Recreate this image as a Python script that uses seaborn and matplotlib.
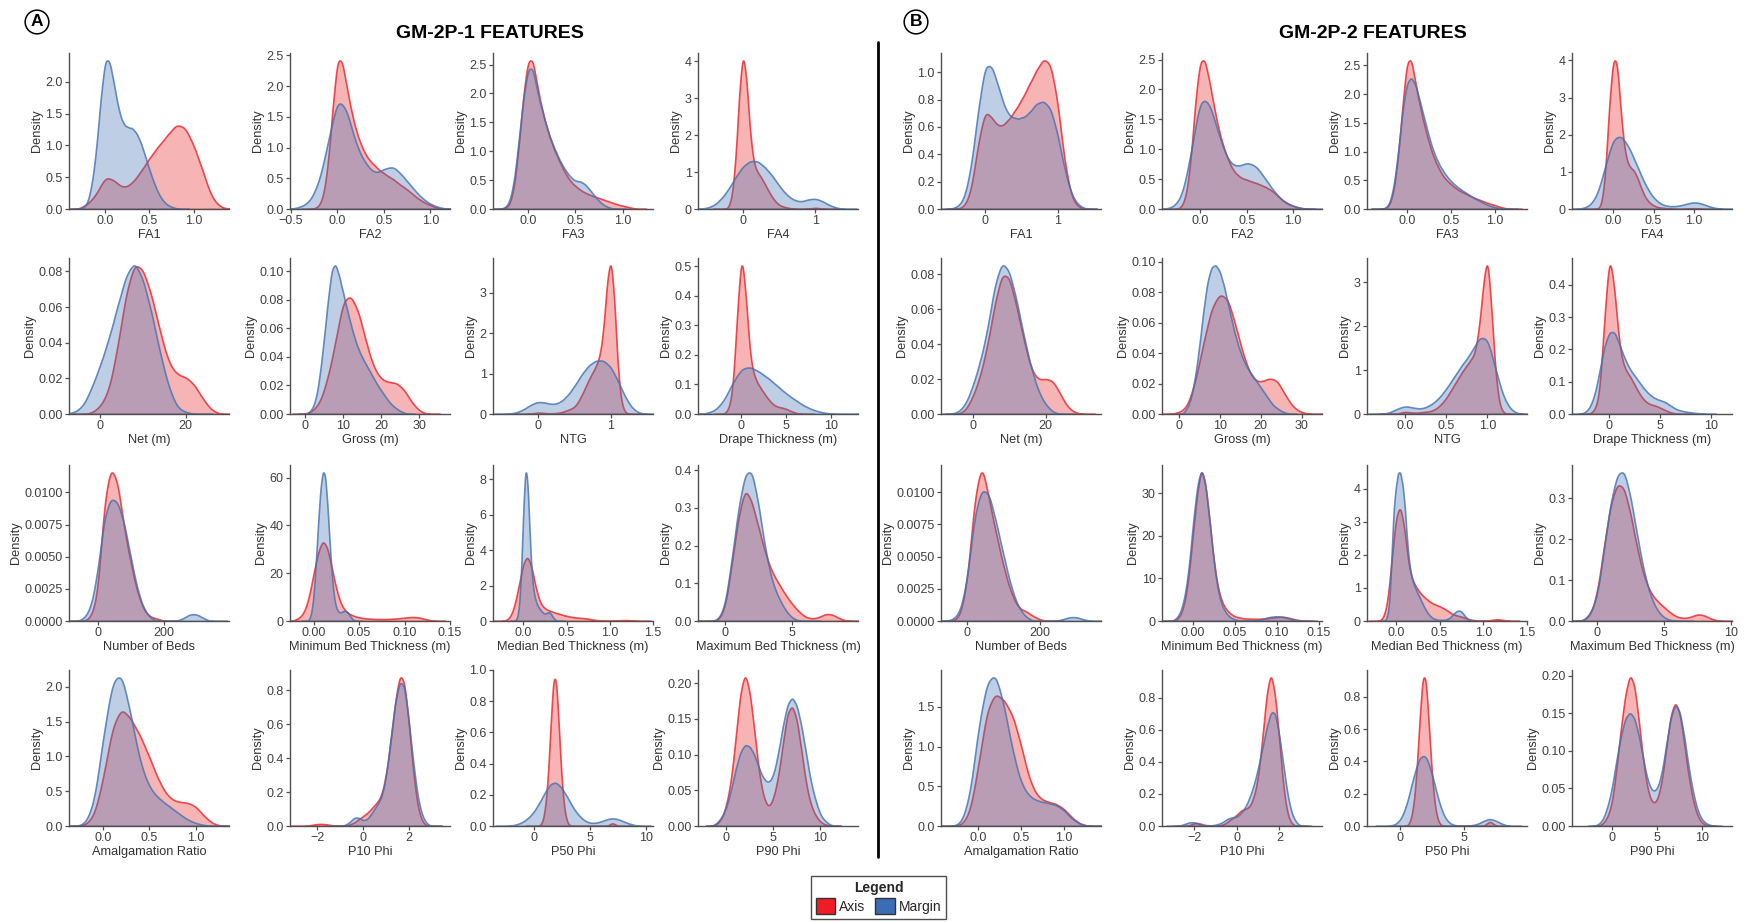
import numpy as np
import matplotlib
matplotlib.use("Agg")
import matplotlib.pyplot as plt
from matplotlib.patches import Patch
from matplotlib.lines import Line2D
import seaborn as sns

# ---------------- DATA: (value, weight) samples ----------------
# GM-2P-1 (panel A)
A_FA1_AXIS = [(-0.2,0.08),(-0.1,0.24),(0.0,0.56),(0.1,0.48),(0.2,0.34),(0.3,0.42),(0.4,0.62),(0.5,0.85),(0.6,1.05),(0.7,1.22),(0.8,1.42),(0.9,1.38),(1.0,1.07),(1.1,0.65),(1.2,0.19),(1.3,0.03)]
A_FA1_MARGIN = [(-0.25,0.02),(-0.2,0.08),(-0.15,0.35),(-0.1,0.85),(-0.05,1.6),(0.0,2.15),(0.05,2.1),(0.1,1.75),(0.15,1.4),(0.2,1.2),(0.25,1.15),(0.3,1.15),(0.35,1.08),(0.4,0.95),(0.45,0.75),(0.5,0.55),(0.55,0.37),(0.6,0.22),(0.65,0.12),(0.7,0.06),(0.75,0.03),(0.8,0.01)]
A_FA2_AXIS = [(-0.25,0.01),(-0.2,0.04),(-0.15,0.2),(-0.1,0.7),(-0.05,1.6),(0.0,2.35),(0.05,2.3),(0.1,1.87),(0.15,1.5),(0.2,1.2),(0.25,1.0),(0.3,0.84),(0.35,0.74),(0.4,0.67),(0.45,0.6),(0.5,0.55),(0.55,0.5),(0.6,0.46),(0.65,0.4),(0.7,0.35),(0.75,0.3),(0.8,0.24),(0.85,0.18),(0.9,0.13),(0.95,0.09),(1.0,0.06),(1.05,0.03),(1.1,0.01)]
A_FA2_MARGIN = [(-0.4,0.03),(-0.3,0.1),(-0.2,0.38),(-0.1,1.0),(0.0,1.7),(0.1,1.5),(0.2,0.95),(0.3,0.68),(0.4,0.52),(0.5,0.6),(0.6,0.65),(0.7,0.5),(0.8,0.33),(0.9,0.17),(1.0,0.07),(1.1,0.02)]
A_FA3_AXIS = [(-0.25,0.01),(-0.2,0.05),(-0.15,0.35),(-0.1,1.1),(-0.05,2.1),(0.0,2.75),(0.05,2.75),(0.1,2.2),(0.15,1.8),(0.2,1.46),(0.25,1.2),(0.3,0.99),(0.35,0.8),(0.4,0.63),(0.45,0.5),(0.5,0.42),(0.55,0.35),(0.6,0.3),(0.65,0.26),(0.7,0.23),(0.75,0.2),(0.8,0.17),(0.85,0.14),(0.9,0.11),(0.95,0.08),(1.0,0.06),(1.05,0.04),(1.1,0.02)]
A_FA3_MARGIN = [(-0.25,0.02),(-0.2,0.1),(-0.15,0.45),(-0.1,1.2),(-0.05,2.0),(0.0,2.55),(0.05,2.55),(0.1,2.08),(0.15,1.75),(0.2,1.45),(0.25,1.2),(0.3,1.0),(0.35,0.82),(0.4,0.68),(0.45,0.57),(0.5,0.5),(0.55,0.5),(0.6,0.45),(0.65,0.35),(0.7,0.24),(0.75,0.14),(0.8,0.07),(0.85,0.03),(0.9,0.01)]
A_FA4_AXIS = [(-0.2,0.03),(-0.15,0.3),(-0.1,1.2),(-0.05,2.9),(0.0,3.9),(0.05,3.2),(0.1,1.8),(0.15,1.1),(0.2,0.9),(0.25,0.78),(0.3,0.62),(0.35,0.45),(0.4,0.3),(0.45,0.18),(0.5,0.1),(0.55,0.06),(0.6,0.04),(0.65,0.02),(0.7,0.01),(0.9,0.01),(0.95,0.02),(1.0,0.03),(1.05,0.02),(1.1,0.01)]
A_FA4_MARGIN = [(-0.5,0.03),(-0.4,0.1),(-0.3,0.28),(-0.2,0.55),(-0.1,0.9),(0.0,1.2),(0.1,1.35),(0.2,1.35),(0.3,1.18),(0.4,0.95),(0.5,0.65),(0.6,0.4),(0.7,0.25),(0.8,0.2),(0.9,0.27),(1.0,0.3),(1.1,0.22),(1.2,0.1),(1.3,0.03)]
A_NET_AXIS = [(-2,0.0005),(0,0.004),(2,0.012),(4,0.035),(6,0.065),(8,0.082),(10,0.078),(12,0.064),(14,0.044),(16,0.027),(18,0.021),(20,0.02),(22,0.016),(24,0.008),(26,0.002)]
A_NET_MARGIN = [(-6,0.001),(-4,0.004),(-2,0.014),(0,0.026),(2,0.04),(4,0.057),(6,0.074),(8,0.082),(10,0.072),(12,0.054),(14,0.032),(16,0.014),(18,0.003),(20,0.001)]
A_GROSS_AXIS = [(2,0.002),(4,0.008),(6,0.025),(8,0.05),(10,0.08),(12,0.083),(14,0.072),(16,0.05),(18,0.032),(20,0.024),(22,0.022),(24,0.022),(26,0.017),(28,0.008),(30,0.002)]
A_GROSS_MARGIN = [(1,0.001),(2,0.004),(3,0.012),(4,0.03),(5,0.055),(6,0.082),(7,0.106),(8,0.11),(9,0.1),(10,0.088),(11,0.076),(12,0.065),(13,0.055),(14,0.047),(15,0.041),(16,0.036),(17,0.031),(18,0.026),(19,0.021),(20,0.017),(21,0.013),(22,0.009),(23,0.006),(24,0.004),(25,0.002),(26,0.001)]
A_NTG_AXIS = [(-0.1,0.01),(-0.05,0.02),(0.0,0.03),(0.05,0.03),(0.1,0.02),(0.15,0.015),(0.2,0.015),(0.25,0.02),(0.3,0.03),(0.35,0.05),(0.4,0.08),(0.45,0.11),(0.5,0.15),(0.55,0.25),(0.6,0.4),(0.65,0.57),(0.7,0.75),(0.75,0.9),(0.8,1.05),(0.85,1.25),(0.9,1.8),(0.95,2.9),(1.0,3.5),(1.05,2.6),(1.1,0.9),(1.15,0.2),(1.2,0.03),(1.25,0.005)]
A_NTG_MARGIN = [(-0.4,0.005),(-0.3,0.03),(-0.2,0.1),(-0.1,0.22),(0.0,0.3),(0.1,0.28),(0.2,0.23),(0.3,0.27),(0.4,0.42),(0.5,0.66),(0.6,0.95),(0.7,1.18),(0.8,1.3),(0.9,1.3),(1.0,1.15),(1.1,0.8),(1.2,0.4),(1.3,0.12),(1.4,0.02)]
A_DRAPE_AXIS = [(-1.5,0.01),(-1.0,0.06),(-0.5,0.3),(0.0,0.52),(0.5,0.36),(1.0,0.16),(1.5,0.11),(2.0,0.085),(2.5,0.065),(3.0,0.045),(3.5,0.03),(4.0,0.022),(4.5,0.02),(5.0,0.016),(5.5,0.009),(6.0,0.004),(6.5,0.001)]
A_DRAPE_MARGIN = [(-4,0.002),(-3,0.01),(-2,0.04),(-1,0.1),(0,0.148),(1,0.152),(2,0.135),(3,0.115),(4,0.09),(5,0.065),(6,0.045),(7,0.026),(8,0.013),(9,0.005),(10,0.001)]
A_BEDS_AXIS = [(-20,0.0003),(0,0.002),(20,0.0095),(40,0.0122),(60,0.011),(80,0.0072),(100,0.0045),(120,0.0022),(140,0.0008),(160,0.0003),(180,0.0002)]
A_BEDS_MARGIN = [(-40,0.0002),(-20,0.001),(0,0.0035),(20,0.0075),(40,0.0088),(60,0.0085),(80,0.007),(100,0.0045),(120,0.0022),(140,0.0008),(160,0.0002),(260,0.0002),(280,0.0005),(300,0.0005),(320,0.0002)]
A_MINBED_AXIS = [(-0.02,0.5),(-0.015,1.5),(-0.01,4),(-0.005,10),(0.0,20),(0.005,29),(0.01,34),(0.015,31),(0.02,22),(0.025,13),(0.03,7),(0.035,4),(0.04,2.8),(0.045,2.0),(0.05,1.5),(0.055,1.2),(0.06,1.0),(0.065,0.9),(0.07,0.8),(0.075,0.8),(0.08,0.8),(0.085,0.9),(0.09,1.0),(0.095,1.2),(0.1,1.4),(0.105,1.6),(0.11,1.7),(0.115,1.5),(0.12,1.1),(0.125,0.6),(0.13,0.2)]
A_MINBED_MARGIN = [(-0.005,0.5),(-0.0025,3),(0.0,10),(0.0025,24),(0.005,40),(0.0075,54),(0.01,61),(0.0125,60),(0.015,48),(0.0175,32),(0.02,18),(0.0225,9),(0.025,5),(0.0275,3.5),(0.03,3.5),(0.0325,4),(0.035,4.2),(0.0375,3.5),(0.04,2),(0.0425,0.8),(0.045,0.2)]
A_MEDIAN_AXIS = [(-0.2,0.03),(-0.15,0.2),(-0.1,0.8),(-0.05,1.9),(0.0,3.1),(0.05,3.5),(0.1,2.8),(0.15,1.6),(0.2,0.9),(0.25,0.65),(0.3,0.55),(0.35,0.47),(0.4,0.4),(0.45,0.33),(0.5,0.27),(0.55,0.22),(0.6,0.19),(0.65,0.17),(0.7,0.15),(0.75,0.12),(0.8,0.08),(0.85,0.04),(0.9,0.02),(0.95,0.01),(1.0,0.01),(1.05,0.02),(1.1,0.035),(1.15,0.05),(1.2,0.05),(1.25,0.03),(1.3,0.01)]
A_MEDIAN_MARGIN = [(-0.075,0.1),(-0.05,0.6),(-0.025,2.5),(0.0,6.0),(0.025,8.5),(0.05,7.6),(0.075,4.5),(0.1,2.3),(0.125,1.4),(0.15,1.0),(0.175,0.75),(0.2,0.6),(0.225,0.45),(0.25,0.38),(0.275,0.45),(0.3,0.5),(0.325,0.35),(0.35,0.15),(0.375,0.05),(0.4,0.01)]
A_MAXBED_AXIS = [(-0.5,0.002),(0.0,0.03),(0.5,0.15),(1.0,0.28),(1.5,0.36),(2.0,0.32),(2.5,0.25),(3.0,0.18),(3.5,0.13),(4.0,0.1),(4.5,0.07),(5.0,0.045),(5.5,0.025),(6.0,0.01),(6.5,0.006),(7.0,0.01),(7.5,0.02),(8.0,0.018),(8.5,0.007),(9.0,0.001)]
A_MAXBED_MARGIN = [(-0.5,0.003),(0.0,0.04),(0.5,0.17),(1.0,0.32),(1.5,0.42),(2.0,0.43),(2.5,0.33),(3.0,0.2),(3.5,0.11),(4.0,0.065),(4.5,0.03),(5.0,0.008),(5.5,0.001)]
A_AMALG_AXIS = [(-0.2,0.01),(-0.1,0.12),(0.0,0.65),(0.1,1.4),(0.2,1.65),(0.3,1.48),(0.4,1.25),(0.5,0.95),(0.6,0.62),(0.7,0.4),(0.8,0.33),(0.9,0.33),(1.0,0.28),(1.1,0.12),(1.2,0.02)]
A_AMALG_MARGIN = [(-0.2,0.02),(-0.1,0.3),(0.0,1.3),(0.1,2.15),(0.2,2.25),(0.3,1.6),(0.4,0.9),(0.5,0.55),(0.6,0.4),(0.7,0.3),(0.8,0.2),(0.9,0.1),(1.0,0.04),(1.1,0.01)]
A_P10_AXIS = [(-2.4,0.002),(-2.2,0.008),(-2.0,0.012),(-1.8,0.013),(-1.6,0.01),(-1.4,0.005),(-1.2,0.002),(-1.0,0.001),(-0.8,0.002),(-0.6,0.008),(-0.4,0.02),(-0.2,0.04),(0.0,0.06),(0.2,0.08),(0.4,0.11),(0.6,0.14),(0.8,0.18),(1.0,0.3),(1.2,0.5),(1.4,0.75),(1.6,0.92),(1.8,0.88),(2.0,0.62),(2.2,0.3),(2.4,0.1),(2.6,0.02)]
A_P10_MARGIN = [(-0.8,0.005),(-0.6,0.02),(-0.4,0.05),(-0.2,0.05),(0.0,0.03),(0.2,0.04),(0.4,0.08),(0.6,0.12),(0.8,0.16),(1.0,0.28),(1.2,0.5),(1.4,0.72),(1.6,0.84),(1.8,0.82),(2.0,0.6),(2.2,0.35),(2.4,0.15),(2.6,0.05),(2.8,0.01)]
A_P50_AXIS = [(0.75,0.018),(1.0,0.09),(1.25,0.28),(1.5,0.62),(1.75,0.96),(2.0,0.96),(2.25,0.62),(2.5,0.28),(2.75,0.09),(3.0,0.018),(3.25,0.003),(6.75,0.01),(7.0,0.02),(7.25,0.01)]
A_P50_MARGIN = [(-2.0,0.003),(-1.5,0.01),(-1.0,0.025),(-0.5,0.05),(0.0,0.09),(0.5,0.15),(1.0,0.22),(1.5,0.28),(2.0,0.29),(2.5,0.25),(3.0,0.19),(3.5,0.12),(4.0,0.07),(4.5,0.035),(5.0,0.02),(5.5,0.02),(6.0,0.03),(6.5,0.045),(7.0,0.052),(7.5,0.045),(8.0,0.03),(8.5,0.015),(9.0,0.005)]
A_P90_AXIS = [(-1.0,0.003),(-0.5,0.01),(0.0,0.03),(0.5,0.065),(1.0,0.13),(1.5,0.2),(2.0,0.23),(2.5,0.2),(3.0,0.14),(3.5,0.075),(4.0,0.04),(4.5,0.026),(5.0,0.04),(5.5,0.07),(6.0,0.12),(6.5,0.17),(7.0,0.18),(7.5,0.16),(8.0,0.11),(8.5,0.06),(9.0,0.03),(9.5,0.015),(10.0,0.006),(10.5,0.002),(11.0,0.001)]
A_P90_MARGIN = [(-1.0,0.004),(-0.5,0.012),(0.0,0.025),(0.5,0.05),(1.0,0.08),(1.5,0.105),(2.0,0.115),(2.5,0.112),(3.0,0.1),(3.5,0.08),(4.0,0.065),(4.5,0.06),(5.0,0.07),(5.5,0.1),(6.0,0.14),(6.5,0.172),(7.0,0.182),(7.5,0.17),(8.0,0.14),(8.5,0.1),(9.0,0.06),(9.5,0.035),(10.0,0.015),(10.5,0.007),(11.0,0.002)]

# GM-2P-2 (panel B)
B_FA1_AXIS = [(-0.3,0.01),(-0.2,0.1),(-0.1,0.45),(0.0,0.7),(0.1,0.62),(0.2,0.56),(0.3,0.6),(0.4,0.67),(0.5,0.75),(0.6,0.85),(0.7,0.95),(0.8,1.04),(0.9,1.02),(1.0,0.75),(1.1,0.3),(1.2,0.06),(1.3,0.01)]
B_FA1_MARGIN = [(-0.4,0.01),(-0.3,0.05),(-0.2,0.25),(-0.1,0.65),(0.0,0.98),(0.1,0.95),(0.2,0.78),(0.3,0.63),(0.4,0.6),(0.5,0.6),(0.6,0.63),(0.7,0.7),(0.8,0.72),(0.9,0.68),(1.0,0.5),(1.1,0.25),(1.2,0.08),(1.3,0.02)]
B_FA2_AXIS = [(-0.2,0.03),(-0.15,0.2),(-0.1,0.75),(-0.05,1.7),(0.0,2.3),(0.05,2.3),(0.1,1.95),(0.15,1.55),(0.2,1.2),(0.25,0.95),(0.3,0.75),(0.35,0.6),(0.4,0.52),(0.45,0.47),(0.5,0.45),(0.55,0.42),(0.6,0.4),(0.65,0.37),(0.7,0.34),(0.75,0.3),(0.8,0.25),(0.85,0.18),(0.9,0.12),(0.95,0.08),(1.0,0.05),(1.05,0.025),(1.1,0.01)]
B_FA2_MARGIN = [(-0.3,0.02),(-0.2,0.15),(-0.1,0.8),(0.0,1.7),(0.1,1.6),(0.2,1.1),(0.3,0.7),(0.4,0.62),(0.5,0.7),(0.6,0.65),(0.7,0.45),(0.8,0.25),(0.9,0.1),(1.0,0.04),(1.1,0.01)]
B_FA3_AXIS = [(-0.25,0.01),(-0.2,0.05),(-0.15,0.3),(-0.1,0.9),(-0.05,1.85),(0.0,2.7),(0.05,2.75),(0.1,2.25),(0.15,1.85),(0.2,1.5),(0.25,1.2),(0.3,0.95),(0.35,0.77),(0.4,0.62),(0.45,0.52),(0.5,0.45),(0.55,0.38),(0.6,0.33),(0.65,0.29),(0.7,0.25),(0.75,0.21),(0.8,0.18),(0.85,0.15),(0.9,0.12),(0.95,0.09),(1.0,0.07),(1.05,0.04),(1.1,0.02),(1.15,0.005)]
B_FA3_MARGIN = [(-0.25,0.01),(-0.2,0.07),(-0.15,0.35),(-0.1,0.95),(-0.05,1.7),(0.0,2.2),(0.05,2.3),(0.1,2.15),(0.15,1.85),(0.2,1.55),(0.25,1.25),(0.3,1.0),(0.35,0.82),(0.4,0.68),(0.45,0.57),(0.5,0.48),(0.55,0.41),(0.6,0.35),(0.65,0.3),(0.7,0.25),(0.75,0.2),(0.8,0.16),(0.85,0.12),(0.9,0.08),(0.95,0.05),(1.0,0.03),(1.05,0.015),(1.1,0.005)]
B_FA4_AXIS = [(-0.15,0.05),(-0.1,0.7),(-0.05,2.4),(0.0,3.5),(0.05,3.4),(0.1,2.0),(0.15,1.2),(0.2,0.95),(0.25,0.9),(0.3,0.72),(0.35,0.45),(0.4,0.25),(0.45,0.14),(0.5,0.08),(0.55,0.04),(0.6,0.03),(0.65,0.02),(0.7,0.01),(0.9,0.005),(0.95,0.01),(1.0,0.02),(1.05,0.01),(1.1,0.005)]
B_FA4_MARGIN = [(-0.4,0.01),(-0.3,0.06),(-0.2,0.3),(-0.1,1.0),(0.0,1.7),(0.1,1.75),(0.2,1.45),(0.3,1.0),(0.4,0.55),(0.5,0.25),(0.6,0.1),(0.7,0.06),(0.8,0.07),(0.9,0.12),(1.0,0.17),(1.1,0.13),(1.2,0.05),(1.3,0.01)]
B_NET_AXIS = [(-2,0.002),(0,0.01),(2,0.022),(4,0.04),(6,0.065),(8,0.084),(10,0.082),(12,0.064),(14,0.044),(16,0.026),(18,0.02),(20,0.021),(22,0.02),(24,0.012),(26,0.004),(28,0.001)]
B_NET_MARGIN = [(-4,0.001),(-2,0.005),(0,0.015),(2,0.028),(4,0.045),(6,0.07),(8,0.083),(10,0.078),(12,0.062),(14,0.042),(16,0.025),(18,0.012),(20,0.005),(22,0.001)]
B_GROSS_AXIS = [(0,0.001),(2,0.004),(4,0.02),(6,0.045),(8,0.068),(10,0.077),(12,0.074),(14,0.055),(16,0.035),(18,0.022),(20,0.02),(22,0.023),(24,0.022),(26,0.012),(28,0.004),(30,0.001)]
B_GROSS_MARGIN = [(2,0.004),(3,0.01),(4,0.025),(5,0.045),(6,0.07),(7,0.09),(8,0.1),(9,0.101),(10,0.097),(11,0.087),(12,0.075),(13,0.062),(14,0.051),(15,0.042),(16,0.035),(17,0.03),(18,0.026),(19,0.022),(20,0.018),(21,0.014),(22,0.01),(23,0.006),(24,0.004),(25,0.002),(26,0.001)]
B_NTG_AXIS = [(-0.1,0.01),(-0.05,0.03),(0.0,0.05),(0.05,0.04),(0.1,0.03),(0.15,0.03),(0.2,0.04),(0.25,0.05),(0.3,0.06),(0.35,0.09),(0.4,0.15),(0.45,0.24),(0.5,0.35),(0.55,0.5),(0.6,0.65),(0.65,0.8),(0.7,0.95),(0.75,1.08),(0.8,1.2),(0.85,1.35),(0.9,1.9),(0.95,2.9),(1.0,3.6),(1.05,2.3),(1.1,0.8),(1.15,0.15),(1.2,0.02),(1.25,0.005)]
B_NTG_MARGIN = [(-0.3,0.005),(-0.2,0.02),(-0.1,0.12),(0.0,0.2),(0.1,0.15),(0.2,0.12),(0.3,0.2),(0.4,0.35),(0.5,0.6),(0.6,0.9),(0.7,1.2),(0.8,1.45),(0.9,1.85),(1.0,1.85),(1.1,1.05),(1.2,0.35),(1.3,0.06)]
B_DRAPE_AXIS = [(-1.5,0.01),(-1.0,0.05),(-0.5,0.3),(0.0,0.52),(0.5,0.39),(1.0,0.2),(1.5,0.14),(2.0,0.12),(2.5,0.09),(3.0,0.06),(3.5,0.04),(4.0,0.03),(4.5,0.027),(5.0,0.02),(5.5,0.012),(6.0,0.005),(6.5,0.002)]
B_DRAPE_MARGIN = [(-2.5,0.003),(-2.0,0.015),(-1.5,0.05),(-1.0,0.12),(-0.5,0.2),(0.0,0.24),(0.5,0.24),(1.0,0.2),(1.5,0.16),(2.0,0.13),(2.5,0.11),(3.0,0.09),(3.5,0.07),(4.0,0.055),(4.5,0.045),(5.0,0.04),(5.5,0.035),(6.0,0.025),(6.5,0.015),(7.0,0.01),(7.5,0.007),(8.0,0.005),(8.5,0.003),(9.0,0.002)]
B_BEDS_AXIS = [(-20,0.0003),(0,0.003),(20,0.0098),(40,0.0128),(60,0.0095),(80,0.0068),(100,0.0042),(120,0.0022),(140,0.001),(160,0.0008),(180,0.0004),(200,0.0001)]
B_BEDS_MARGIN = [(-40,0.0001),(-20,0.0006),(0,0.003),(20,0.008),(40,0.0099),(60,0.0095),(80,0.0072),(100,0.0048),(120,0.0025),(140,0.001),(160,0.0003),(260,0.0001),(280,0.0003),(300,0.0003),(320,0.0001)]
B_MINBED_AXIS = [(-0.02,0.3),(-0.015,1.2),(-0.01,4),(-0.005,10),(0.0,20),(0.005,29),(0.01,35),(0.015,31),(0.02,22),(0.025,13),(0.03,7),(0.035,4),(0.04,2.5),(0.045,1.6),(0.05,1.0),(0.055,0.8),(0.06,0.6),(0.065,0.55),(0.07,0.5),(0.075,0.5),(0.08,0.5),(0.085,0.6),(0.09,0.7),(0.095,0.8),(0.1,0.9),(0.105,0.95),(0.11,0.9),(0.115,0.7),(0.12,0.45),(0.125,0.25),(0.13,0.1)]
B_MINBED_MARGIN = [(-0.02,0.5),(-0.015,1.8),(-0.01,5),(-0.005,11),(0.0,21),(0.005,29),(0.01,33),(0.015,29),(0.02,21),(0.025,12),(0.03,6),(0.035,3),(0.04,1.5),(0.045,0.7),(0.05,0.3),(0.055,0.15),(0.06,0.1),(0.065,0.1),(0.07,0.12),(0.075,0.2),(0.08,0.3),(0.085,0.5),(0.09,0.8),(0.095,0.95),(0.1,1.0),(0.105,0.95),(0.11,0.8),(0.115,0.5),(0.12,0.25),(0.125,0.08)]
B_MEDIAN_AXIS = [(-0.15,0.05),(-0.1,0.4),(-0.05,1.6),(0.0,2.85),(0.05,3.2),(0.1,2.5),(0.15,1.4),(0.2,1.05),(0.25,0.85),(0.3,0.7),(0.35,0.6),(0.4,0.5),(0.45,0.45),(0.5,0.4),(0.55,0.34),(0.6,0.27),(0.65,0.18),(0.7,0.15),(0.75,0.12),(0.8,0.08),(0.85,0.04),(0.9,0.02),(0.95,0.01),(1.0,0.01),(1.05,0.015),(1.1,0.03),(1.15,0.05),(1.2,0.04),(1.25,0.02)]
B_MEDIAN_MARGIN = [(-0.1,0.1),(-0.075,0.4),(-0.05,1.6),(-0.025,2.9),(0.0,3.4),(0.025,3.8),(0.05,3.8),(0.075,3.5),(0.1,3.0),(0.125,2.1),(0.15,1.5),(0.175,1.15),(0.2,0.95),(0.225,0.82),(0.25,0.7),(0.275,0.58),(0.3,0.46),(0.325,0.35),(0.35,0.25),(0.375,0.17),(0.4,0.11),(0.425,0.07),(0.45,0.05),(0.475,0.03),(0.5,0.03),(0.525,0.03),(0.55,0.03),(0.575,0.04),(0.6,0.06),(0.625,0.1),(0.65,0.16),(0.675,0.22),(0.7,0.26),(0.725,0.27),(0.75,0.24),(0.775,0.17),(0.8,0.1),(0.825,0.04),(0.85,0.01)]
B_MAXBED_AXIS = [(-1.0,0.002),(-0.5,0.015),(0.0,0.07),(0.5,0.19),(1.0,0.3),(1.5,0.35),(2.0,0.34),(2.5,0.27),(3.0,0.18),(3.5,0.11),(4.0,0.07),(4.5,0.05),(5.0,0.035),(5.5,0.02),(6.0,0.01),(6.5,0.007),(7.0,0.01),(7.5,0.018),(8.0,0.015),(8.5,0.006),(9.0,0.001)]
B_MAXBED_MARGIN = [(-1.0,0.002),(-0.5,0.02),(0.0,0.06),(0.5,0.18),(1.0,0.3),(1.5,0.37),(2.0,0.38),(2.5,0.31),(3.0,0.21),(3.5,0.12),(4.0,0.06),(4.5,0.025),(5.0,0.008),(5.5,0.002)]
B_AMALG_AXIS = [(-0.2,0.01),(-0.1,0.15),(0.0,0.75),(0.1,1.45),(0.2,1.65),(0.3,1.55),(0.4,1.38),(0.5,1.0),(0.6,0.55),(0.7,0.35),(0.8,0.3),(0.9,0.28),(1.0,0.22),(1.1,0.1),(1.2,0.02)]
B_AMALG_MARGIN = [(-0.2,0.03),(-0.1,0.35),(0.0,1.2),(0.1,1.75),(0.2,1.85),(0.3,1.45),(0.4,0.9),(0.5,0.5),(0.6,0.35),(0.7,0.3),(0.8,0.28),(0.9,0.26),(1.0,0.2),(1.1,0.08),(1.2,0.02)]
B_P10_AXIS = [(-2.2,0.005),(-2.0,0.02),(-1.8,0.02),(-1.6,0.01),(-1.4,0.005),(-1.2,0.003),(-1.0,0.002),(-0.8,0.005),(-0.6,0.01),(-0.4,0.03),(-0.2,0.05),(0.0,0.07),(0.2,0.1),(0.4,0.11),(0.6,0.12),(0.8,0.18),(1.0,0.3),(1.2,0.55),(1.4,0.85),(1.6,1.0),(1.8,0.85),(2.0,0.55),(2.2,0.22),(2.4,0.06),(2.6,0.01)]
B_P10_MARGIN = [(-2.6,0.005),(-2.4,0.015),(-2.2,0.025),(-2.0,0.025),(-1.8,0.015),(-1.6,0.005),(-1.4,0.002),(-1.2,0.003),(-1.0,0.008),(-0.8,0.015),(-0.6,0.03),(-0.4,0.05),(-0.2,0.055),(0.0,0.06),(0.2,0.08),(0.4,0.12),(0.6,0.18),(0.8,0.26),(1.0,0.37),(1.2,0.5),(1.4,0.63),(1.6,0.74),(1.8,0.74),(2.0,0.58),(2.2,0.38),(2.4,0.18),(2.6,0.07),(2.8,0.02)]
B_P50_AXIS = [(0.75,0.02),(1.0,0.1),(1.25,0.3),(1.5,0.65),(1.75,0.95),(2.0,0.93),(2.25,0.6),(2.5,0.28),(2.75,0.09),(3.0,0.02),(3.25,0.003),(6.75,0.015),(7.0,0.03),(7.25,0.015)]
B_P50_MARGIN = [(-0.5,0.005),(0.0,0.03),(0.5,0.12),(1.0,0.28),(1.5,0.41),(2.0,0.42),(2.5,0.3),(3.0,0.14),(3.5,0.04),(4.0,0.008),(4.5,0.002),(5.0,0.001),(5.5,0.003),(6.0,0.01),(6.5,0.03),(7.0,0.045),(7.5,0.03),(8.0,0.01)]
B_P90_AXIS = [(-1.0,0.003),(-0.5,0.012),(0.0,0.03),(0.5,0.08),(1.0,0.14),(1.5,0.19),(2.0,0.22),(2.5,0.205),(3.0,0.15),(3.5,0.09),(4.0,0.048),(4.5,0.032),(5.0,0.035),(5.5,0.06),(6.0,0.11),(6.5,0.16),(7.0,0.18),(7.5,0.165),(8.0,0.12),(8.5,0.07),(9.0,0.035),(9.5,0.013),(10.0,0.004),(10.5,0.001)]
B_P90_MARGIN = [(-1.5,0.002),(-1.0,0.008),(-0.5,0.025),(0.0,0.05),(0.5,0.09),(1.0,0.125),(1.5,0.15),(2.0,0.158),(2.5,0.15),(3.0,0.125),(3.5,0.09),(4.0,0.06),(4.5,0.047),(5.0,0.05),(5.5,0.07),(6.0,0.11),(6.5,0.15),(7.0,0.17),(7.5,0.16),(8.0,0.125),(8.5,0.08),(9.0,0.045),(9.5,0.02),(10.0,0.008),(10.5,0.003),(11.0,0.001)]

FEATURES = ["FA1", "FA2", "FA3", "FA4",
            "Net (m)", "Gross (m)", "NTG", "Drape Thickness (m)",
            "Number of Beds", "Minimum Bed Thickness (m)", "Median Bed Thickness (m)", "Maximum Bed Thickness (m)",
            "Amalgamation Ratio", "P10 Phi", "P50 Phi", "P90 Phi"]
SERIES = ["Axis", "Margin"]

A_AXIS = [A_FA1_AXIS, A_FA2_AXIS, A_FA3_AXIS, A_FA4_AXIS, A_NET_AXIS, A_GROSS_AXIS, A_NTG_AXIS, A_DRAPE_AXIS,
          A_BEDS_AXIS, A_MINBED_AXIS, A_MEDIAN_AXIS, A_MAXBED_AXIS, A_AMALG_AXIS, A_P10_AXIS, A_P50_AXIS, A_P90_AXIS]
A_MARGIN = [A_FA1_MARGIN, A_FA2_MARGIN, A_FA3_MARGIN, A_FA4_MARGIN, A_NET_MARGIN, A_GROSS_MARGIN, A_NTG_MARGIN, A_DRAPE_MARGIN,
            A_BEDS_MARGIN, A_MINBED_MARGIN, A_MEDIAN_MARGIN, A_MAXBED_MARGIN, A_AMALG_MARGIN, A_P10_MARGIN, A_P50_MARGIN, A_P90_MARGIN]
B_AXIS = [B_FA1_AXIS, B_FA2_AXIS, B_FA3_AXIS, B_FA4_AXIS, B_NET_AXIS, B_GROSS_AXIS, B_NTG_AXIS, B_DRAPE_AXIS,
          B_BEDS_AXIS, B_MINBED_AXIS, B_MEDIAN_AXIS, B_MAXBED_AXIS, B_AMALG_AXIS, B_P10_AXIS, B_P50_AXIS, B_P90_AXIS]
B_MARGIN = [B_FA1_MARGIN, B_FA2_MARGIN, B_FA3_MARGIN, B_FA4_MARGIN, B_NET_MARGIN, B_GROSS_MARGIN, B_NTG_MARGIN, B_DRAPE_MARGIN,
            B_BEDS_MARGIN, B_MINBED_MARGIN, B_MEDIAN_MARGIN, B_MAXBED_MARGIN, B_AMALG_MARGIN, B_P10_MARGIN, B_P50_MARGIN, B_P90_MARGIN]

# ---------------- axis settings (layout) ----------------
A_XLIM = [(-0.41, 1.40), (-0.51, 1.21), (-0.37, 1.32), (-0.62, 1.59),
          (-7.3, 30.1), (-3.9, 38.0), (-0.61, 1.58), (-4.85, 13.0),
          (-87, 398), (-0.026, 0.148), (-0.35, 1.5), (-2.0, 9.9),
          (-0.37, 1.36), (-3.2, 3.8), (-3.6, 10.6), (-3.0, 14.0)]
B_XLIM = [(-0.61, 1.6), (-0.41, 1.31), (-0.45, 1.36), (-0.51, 1.47),
          (-8.7, 35.2), (-4.1, 35.0), (-0.46, 1.48), (-3.7, 12.1),
          (-72, 367), (-0.037, 0.154), (-0.33, 1.5), (-1.9, 10.1),
          (-0.44, 1.44), (-3.5, 4.0), (-2.6, 9.9), (-4.4, 13.3)]

A_XT = [([0, .5, 1], "{:.1f}"), ([-.5, 0, .5, 1], "{:.1f}"), ([0, .5, 1], "{:.1f}"), ([0, 1], "{:.0f}"),
        ([0, 20], "{:.0f}"), ([0, 10, 20, 30], "{:.0f}"), ([0, 1], "{:.0f}"), ([0, 5, 10], "{:.0f}"),
        ([0, 200], "{:.0f}"), ([0, .05, .1, .15], "{:.2f}"), ([0, .5, 1, 1.5], "{:.1f}"), ([0, 5], "{:.0f}"),
        ([0, .5, 1], "{:.1f}"), ([-2, 0, 2], "{:.0f}"), ([0, 5, 10], "{:.0f}"), ([0, 5, 10], "{:.0f}")]
A_YT = [([0, .5, 1, 1.5, 2], "{:.1f}"), ([0, .5, 1, 1.5, 2, 2.5], "{:.1f}"), ([0, .5, 1, 1.5, 2, 2.5], "{:.1f}"), ([0, 1, 2, 3, 4], "{:.0f}"),
        ([0, .02, .04, .06, .08], "{:.2f}"), ([0, .02, .04, .06, .08, .1], "{:.2f}"), ([0, 1, 2, 3], "{:.0f}"), ([0, .1, .2, .3, .4, .5], "{:.1f}"),
        ([0, .0025, .005, .0075, .01], "{:.4f}"), ([0, 20, 40, 60], "{:.0f}"), ([0, 2, 4, 6, 8], "{:.0f}"), ([0, .1, .2, .3, .4], "{:.1f}"),
        ([0, .5, 1, 1.5, 2], "{:.1f}"), ([0, .2, .4, .6, .8], "{:.1f}"), ([0, .2, .4, .6, .8, 1], "{:.1f}"), ([0, .05, .1, .15, .2], "{:.2f}")]
B_XT = [([0, 1], "{:.0f}"), ([0, .5, 1], "{:.1f}"), ([0, .5, 1], "{:.1f}"), ([0, .5, 1], "{:.1f}"),
        ([0, 20], "{:.0f}"), ([0, 10, 20, 30], "{:.0f}"), ([0, .5, 1], "{:.1f}"), ([0, 5, 10], "{:.0f}"),
        ([0, 200], "{:.0f}"), ([0, .05, .1, .15], "{:.2f}"), ([0, .5, 1, 1.5], "{:.1f}"), ([0, 5, 10], "{:.0f}"),
        ([0, .5, 1], "{:.1f}"), ([-2, 0, 2], "{:.0f}"), ([0, 5], "{:.0f}"), ([0, 5, 10], "{:.0f}")]
B_YT = [([0, .2, .4, .6, .8, 1], "{:.1f}"), ([0, .5, 1, 1.5, 2, 2.5], "{:.1f}"), ([0, .5, 1, 1.5, 2, 2.5], "{:.1f}"), ([0, 1, 2, 3, 4], "{:.0f}"),
        ([0, .02, .04, .06, .08], "{:.2f}"), ([0, .02, .04, .06, .08, .1], "{:.2f}"), ([0, 1, 2, 3], "{:.0f}"), ([0, .1, .2, .3, .4], "{:.1f}"),
        ([0, .0025, .005, .0075, .01], "{:.4f}"), ([0, 10, 20, 30], "{:.0f}"), ([0, 1, 2, 3, 4], "{:.0f}"), ([0, .1, .2, .3], "{:.1f}"),
        ([0, .5, 1, 1.5], "{:.1f}"), ([0, .2, .4, .6, .8], "{:.1f}"), ([0, .2, .4, .6, .8], "{:.1f}"), ([0, .05, .1, .15, .2], "{:.2f}")]

# ---------------- style ----------------
sns.set_style("ticks")
plt.rcParams["font.family"] = ["Liberation Sans", "DejaVu Sans"]
AXIS_COLOR = "#E82328"
MARGIN_COLOR = "#4272B3"
SPINE = "#505050"
TEXT = "#333333"

W, H = 1747, 922
fig = plt.figure(figsize=(W / 100, H / 100), dpi=100)

COLS_A = [69, 290, 493, 698]
COLS_B = [941, 1162, 1367, 1572]
ROWS = [53, 258, 465, 670]
AW, AH = 160, 156


def fmt(v, f):
    s = f.format(v)
    return s.replace("-", "\u2212")


def draw_density(ax, pairs, color):
    xs = np.array([p[0] for p in pairs], dtype=float)
    ws = np.array([p[1] for p in pairs], dtype=float)
    step = np.min(np.diff(np.sort(xs)))
    wn = ws / ws.sum()
    m = np.sum(wn * xs)
    var = np.sum(wn * (xs - m) ** 2) / (1 - np.sum(wn ** 2))
    bw = 0.6 * step / np.sqrt(var)
    edge = matplotlib.colors.to_rgba(color, 0.8)
    sns.kdeplot(x=xs, weights=ws, bw_method=bw, fill=True, color=color, alpha=0.34,
                edgecolor=edge, linewidth=1.2, gridsize=400, ax=ax)


def panel(ax, axis_pairs, margin_pairs, xlabel, xlim, xt, yt):
    draw_density(ax, axis_pairs, AXIS_COLOR)
    draw_density(ax, margin_pairs, MARGIN_COLOR)
    ax.set_xlim(*xlim)
    ax.set_ylim(bottom=0)
    ax.set_xticks(xt[0], [fmt(v, xt[1]) for v in xt[0]])
    ax.set_yticks(yt[0], [fmt(v, yt[1]) for v in yt[0]])
    ax.set_xlabel(xlabel, fontsize=9.2, color=TEXT, labelpad=1)
    ax.set_ylabel("Density", fontsize=9.2, color=TEXT, labelpad=2)
    ax.tick_params(axis="both", labelsize=9, colors=SPINE, labelcolor="#404040",
                   length=3, width=0.9, pad=1.5)
    for s in ["top", "right"]:
        ax.spines[s].set_visible(False)
    for s in ["left", "bottom"]:
        ax.spines[s].set_color(SPINE)
        ax.spines[s].set_linewidth(1.0)


for side, cols, axs, mgs, xlims, xts, yts in [
        ("A", COLS_A, A_AXIS, A_MARGIN, A_XLIM, A_XT, A_YT),
        ("B", COLS_B, B_AXIS, B_MARGIN, B_XLIM, B_XT, B_YT)]:
    for i in range(16):
        r, c = divmod(i, 4)
        left = cols[c] / W
        bottom = 1 - (ROWS[r] + AH) / H
        ax = fig.add_axes([left, bottom, AW / W, AH / H])
        panel(ax, axs[i], mgs[i], FEATURES[i], xlims[i], xts[i], yts[i])

# titles and labels
fig.text(490 / W, 1 - 33 / H, "GM-2P-1 FEATURES", ha="center", va="center",
         fontsize=14, fontweight="bold", color="black")
fig.text(1373 / W, 1 - 33 / H, "GM-2P-2 FEATURES", ha="center", va="center",
         fontsize=14, fontweight="bold", color="black")
for lbl, x in [("A", 37), ("B", 916)]:
    fig.text(x / W, 1 - 22 / H, lbl, ha="center", va="center", fontsize=12.5,
             fontweight="bold", color="black",
             bbox=dict(boxstyle="circle,pad=0.25", fc="white", ec="black", lw=1.1))

fig.add_artist(Line2D([878 / W, 878 / W], [1 - 42 / H, 1 - 857 / H], color="black",
                      lw=2.0, transform=fig.transFigure))

handles = [Patch(facecolor="#EE1C25", edgecolor="#333333", label=SERIES[0]),
           Patch(facecolor="#3A6DB5", edgecolor="#333333", label=SERIES[1])]
leg = fig.legend(handles=handles, loc="center", bbox_to_anchor=(878.5 / W, 1 - 897.5 / H),
                 ncol=2, title="Legend", fontsize=10, frameon=True, fancybox=False,
                 edgecolor="#222222", handlelength=1.4, handleheight=1.4,
                 handletextpad=0.3, columnspacing=0.7, borderpad=0.35, labelspacing=0.2)
leg.get_title().set_fontweight("bold")
leg.get_title().set_fontsize(10)
leg.get_frame().set_linewidth(1.0)

fig.savefig("out.png", dpi=100)
